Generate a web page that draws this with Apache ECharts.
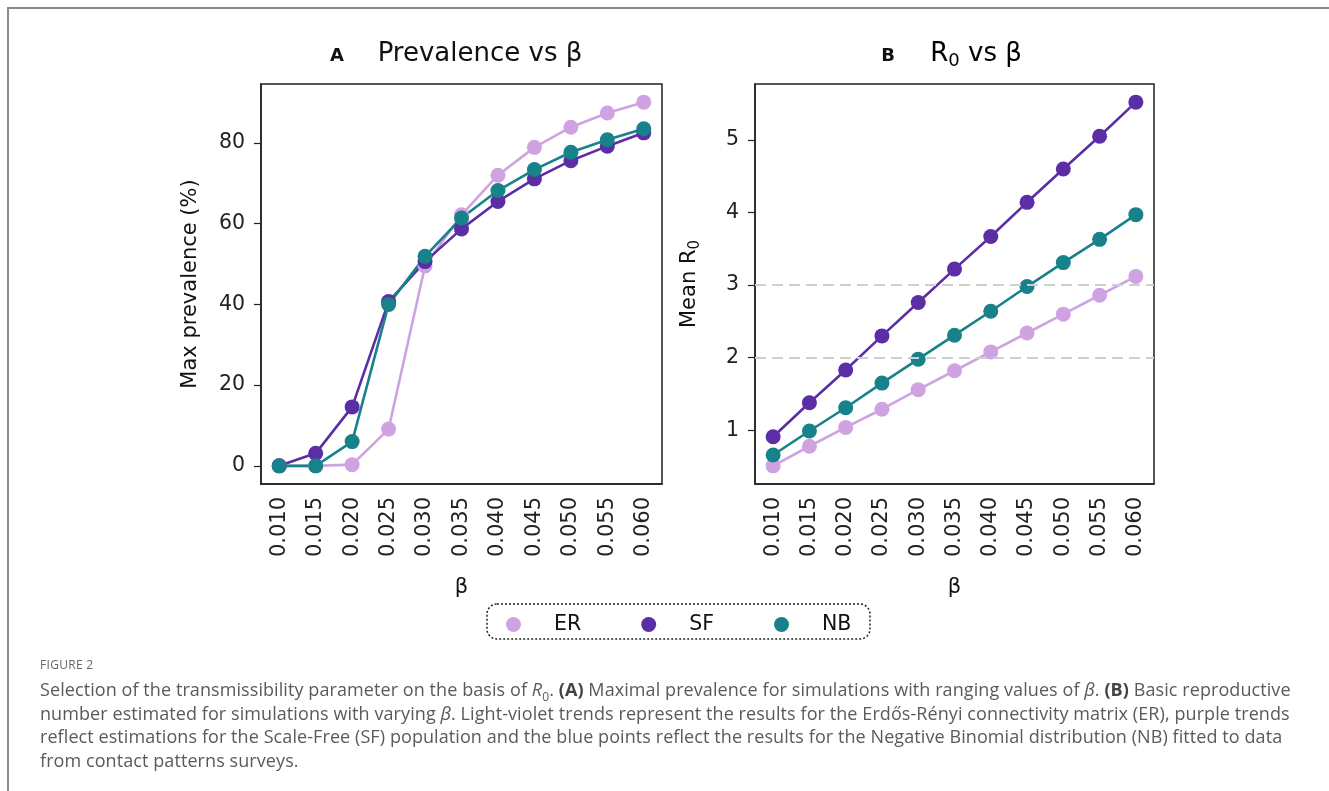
<!DOCTYPE html>
<html>
<head>
<meta charset="utf-8">
<script src="https://cdn.jsdelivr.net/npm/echarts@6/dist/echarts.min.js"></script>
<style>
  html, body { margin: 0; padding: 0; background: #fff; }
  #wrap { position: relative; width: 1329px; height: 791px; overflow: hidden; }
  #frame { position: absolute; left: 7px; top: 7px; right: -10px; bottom: -10px; border-top: 2px solid #8a8a8a; border-left: 2px solid #8a8a8a; }
  #chart { position: absolute; left: 0; top: 0; width: 1329px; height: 791px; }
  #caption { position: absolute; left: 40px; top: 656px; font-family: "Open Sans", sans-serif; color: #5a5a5a; white-space: nowrap; }
  #caption .fig { font-size: 12px; letter-spacing: 0.3px; color: #666; margin-bottom: 5px; }
  #caption .txt { font-size: 18px; line-height: 23.5px; letter-spacing: 0.08px; }
  #caption b { color: #444; }
  #caption sub { font-size: 12px; line-height: 0; }
</style>
</head>
<body>
<div id="wrap">
  <div id="frame"></div>
  <div id="chart"></div>
  <div id="caption">
    <div class="fig">FIGURE 2</div>
    <div class="txt">Selection of the transmissibility parameter on the basis of <i>R</i><sub>0</sub>. <b>(A)</b> Maximal prevalence for simulations with ranging values of <i>β</i>. <b>(B)</b> Basic reproductive<br>number estimated for simulations with varying <i>β</i>. Light-violet trends represent the results for the Erdős-Rényi connectivity matrix (ER), purple trends<br>reflect estimations for the Scale-Free (SF) population and the blue points reflect the results for the Negative Binomial distribution (NB) fitted to data<br>from contact patterns surveys.</div>
  </div>
</div>
<script>
const betaLabels = ['0.010','0.015','0.020','0.025','0.030','0.035','0.040','0.045','0.050','0.055','0.060'];
const prevER = [0, 0, 0.3, 9.1, 49.5, 62.2, 72.0, 78.9, 83.9, 87.4, 90.1];
const prevSF = [0, 3.1, 14.6, 40.7, 50.6, 58.7, 65.5, 71.1, 75.6, 79.2, 82.5];
const prevNB = [0, 0, 6.0, 40.0, 51.9, 61.4, 68.2, 73.4, 77.7, 80.8, 83.5];
const r0ER = [0.51, 0.78, 1.04, 1.29, 1.56, 1.82, 2.08, 2.34, 2.60, 2.86, 3.12];
const r0SF = [0.91, 1.38, 1.83, 2.30, 2.76, 3.22, 3.67, 4.14, 4.60, 5.05, 5.52];
const r0NB = [0.66, 0.99, 1.31, 1.65, 1.98, 2.31, 2.64, 2.98, 3.31, 3.63, 3.97];
const prevTicks = [0, 20, 40, 60, 80];
const r0Ticks = [1, 2, 3, 4, 5];
const r0RefLines = [2, 3];
const seriesNames = ['ER', 'SF', 'NB'];

const colors = { ER: '#cfa3e2', SF: '#5b2ea6', NB: '#17828a' };
const FONT = "'DejaVu Sans', sans-serif";
const axisColor = '#222';

function xAxis(gridIndex) {
  return {
    type: 'category', gridIndex, data: betaLabels, boundaryGap: true,
    name: 'β', nameLocation: 'middle', nameGap: 93,
    nameTextStyle: { fontFamily: FONT, fontSize: 21, color: '#111' },
    axisLine: { onZero: false, lineStyle: { color: axisColor, width: 1.5 } },
    axisTick: { alignWithLabel: true, length: 7, lineStyle: { color: axisColor, width: 1.2 } },
    axisLabel: { rotate: 90, fontFamily: FONT, fontSize: 21, color: '#222', margin: 13, interval: 0 },
    splitLine: { show: false }
  };
}
function yAxis(gridIndex, min, max, ticks, name, gap, rich) {
  return {
    type: 'value', gridIndex, min, max,
    name, nameLocation: 'middle', nameGap: gap,
    nameTextStyle: Object.assign({ fontFamily: FONT, fontSize: 21, color: '#111' }, rich ? { rich } : {}),
    axisLine: { show: true, onZero: false, lineStyle: { color: axisColor, width: 1.5 } },
    axisTick: { show: true, length: 7, customValues: ticks, lineStyle: { color: axisColor, width: 1.2 } },
    axisLabel: { fontFamily: FONT, fontSize: 20.5, color: '#222', margin: 16, customValues: ticks },
    splitLine: { show: false }
  };
}
function line(name, data, xi, extra) {
  return Object.assign({
    type: 'line', name, data, xAxisIndex: xi, yAxisIndex: xi,
    symbol: 'circle', symbolSize: 15, showSymbol: true,
    itemStyle: { color: colors[name] },
    lineStyle: { color: colors[name], width: 2.6 },
    emphasis: { disabled: true }
  }, extra || {});
}

const axisRich = {
  r: { fontFamily: FONT, fontSize: 21, color: '#111', lineHeight: 26 },
  s: { fontFamily: FONT, fontSize: 15, color: '#111', lineHeight: 17, verticalAlign: 'bottom' }
};
const titleRich = {
  r: { fontFamily: FONT, fontSize: 26, color: '#111', lineHeight: 32 },
  s: { fontFamily: FONT, fontSize: 18, color: '#111', lineHeight: 20, verticalAlign: 'bottom' }
};

const chart = echarts.init(document.getElementById('chart'), null, { renderer: 'canvas' });
chart.setOption({
  animation: false,
  backgroundColor: 'transparent',
  grid: [
    { left: 261, top: 84, width: 401, height: 400, show: true, borderColor: axisColor, borderWidth: 1.5, containLabel: false },
    { left: 755, top: 84, width: 399, height: 400, show: true, borderColor: axisColor, borderWidth: 1.5, containLabel: false }
  ],
  xAxis: [xAxis(0), xAxis(1)],
  yAxis: [
    yAxis(0, -4.5, 94.6, prevTicks, 'Max prevalence (%)', 60),
    yAxis(1, 0.26, 5.77, r0Ticks, '{r|Mean R}{s|0}', 52, axisRich)
  ],
  legend: {
    data: seriesNames, left: 501, top: 609, icon: 'circle',
    itemWidth: 15, itemHeight: 15, itemGap: 60,
    textStyle: { fontFamily: FONT, fontSize: 20.5, color: '#111', padding: [0, 0, 0, 28] },
    selectedMode: false
  },
  graphic: [
    { type: 'rect', shape: { x: 487, y: 604, width: 383, height: 35, r: 10 },
      style: { fill: 'none', stroke: '#222', lineWidth: 1.5, lineDash: [2, 2] }, silent: true },
    { type: 'text', x: 337, y: 56, style: { text: 'A', font: "bold 18px 'DejaVu Sans', sans-serif", fill: '#111', textAlign: 'center', textVerticalAlign: 'middle' } },
    { type: 'text', x: 480, y: 54, style: { text: 'Prevalence vs β', font: "26px 'DejaVu Sans', sans-serif", fill: '#111', textAlign: 'center', textVerticalAlign: 'middle' } },
    { type: 'text', x: 888, y: 56, style: { text: 'B', font: "bold 18px 'DejaVu Sans', sans-serif", fill: '#111', textAlign: 'center', textVerticalAlign: 'middle' } },
    { type: 'text', x: 976, y: 54, style: { text: '{r|R}{s|0}{r| vs β}', rich: titleRich, textAlign: 'center', textVerticalAlign: 'middle' } }
  ],
  series: [
    line('ER', prevER, 0),
    line('SF', prevSF, 0),
    line('NB', prevNB, 0),
    line('ER', r0ER, 1, {
      markLine: {
        silent: true, symbol: 'none', label: { show: false },
        lineStyle: { color: '#cfcfcf', type: [11, 6], width: 2 },
        data: r0RefLines.map(v => ({ yAxis: v }))
      }
    }),
    line('SF', r0SF, 1),
    line('NB', r0NB, 1)
  ]
});
</script>
</body>
</html>
